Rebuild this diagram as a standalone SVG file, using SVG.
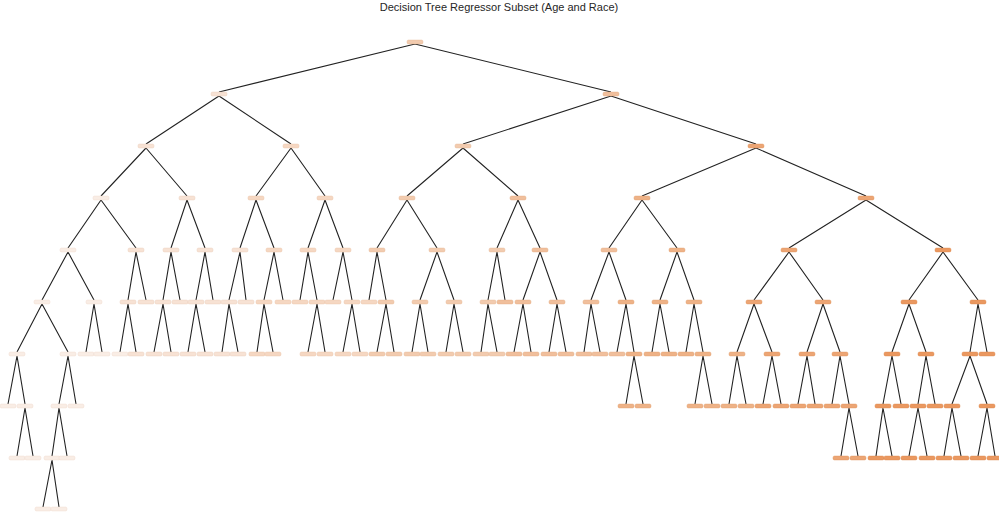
<svg xmlns="http://www.w3.org/2000/svg" width="999" height="512" viewBox="0 0 999 512">
<style>
rect{rx:1.5;ry:1.5;stroke-width:0.4}
.a{fill:#f9ede5;stroke:#efd9cb}.b{fill:#f7e2d4;stroke:#eccdb8}.c{fill:#f5d7c2;stroke:#e8c0a4}.d{fill:#f2cbaf;stroke:#e5b592}
.e{fill:#f0bf9c;stroke:#e3a87d}.f{fill:#eeb287;stroke:#e09c6b}.g{fill:#eca574;stroke:#de9059}.h{fill:#ea9860;stroke:#db8447}
#connectors path{stroke:#222222;stroke-width:1.1;fill:none}
.title{font-family:"Liberation Sans",Arial,sans-serif;font-size:11px;fill:#262626}
</style>
<rect x="0" y="0" width="999" height="512" fill="#ffffff" style="stroke:none"/>
<text class="title" x="499" y="10.5" text-anchor="middle">Decision Tree Regressor Subset (Age and Race)</text>
<g id="connectors">
<path d="M415 44L219 92M415 44L611 92"/>
<path d="M219 96L146 144M219 96L291 144M611 96L463 144M611 96L756 144"/>
<path d="M146 148L101 196M146 148L187 196M291 148L256 196M291 148L325 196M463 148L407 196M463 148L518 196M756 148L642 196M756 148L866 196"/>
<path d="M101 200L68 248M101 200L136 248M187 200L171 248M187 200L205 248M256 200L240 248M256 200L274 248M325 200L308 248M325 200L343 248M407 200L377 248M407 200L437 248M518 200L497 248M518 200L540 248M642 200L609 248M642 200L677 248M866 200L789 248M866 200L943 248"/>
<path d="M68 252L42 300M68 252L94 300M136 252L128 300M136 252L146 300M171 252L163 300M171 252L180 300M205 252L196 300M205 252L213 300M240 252L229 300M240 252L246 300M274 252L264 300M274 252L283 300M308 252L300 300M308 252L317 300M343 252L333 300M343 252L352 300M377 252L369 300M377 252L386 300M437 252L420 300M437 252L454 300M497 252L488 300M497 252L505 300M540 252L523 300M540 252L557 300M609 252L591 300M609 252L626 300M677 252L660 300M677 252L694 300M789 252L754 300M789 252L823 300M943 252L909 300M943 252L978 300"/>
<path d="M42 304L17 352M42 304L68 352M94 304L86 352M94 304L102 352M128 304L120 352M128 304L136 352M163 304L154 352M163 304L171 352M196 304L188 352M196 304L205 352M229 304L222 352M229 304L238 352M264 304L257 352M264 304L273 352M317 304L308 352M317 304L325 352M352 304L343 352M352 304L360 352M386 304L377 352M386 304L394 352M420 304L412 352M420 304L428 352M454 304L446 352M454 304L463 352M488 304L481 352M488 304L497 352M523 304L514 352M523 304L531 352M557 304L549 352M557 304L566 352M591 304L584 352M591 304L600 352M626 304L617 352M626 304L634 352M660 304L652 352M660 304L669 352M694 304L686 352M694 304L703 352M754 304L737 352M754 304L772 352M823 304L807 352M823 304L840 352M909 304L892 352M909 304L926 352M978 304L970 352M978 304L987 352"/>
<path d="M17 356L8 404M17 356L25 404M68 356L59 404M68 356L76 404M634 356L626 404M634 356L643 404M703 356L695 404M703 356L712 404M737 356L729 404M737 356L746 404M772 356L763 404M772 356L781 404M807 356L798 404M807 356L815 404M840 356L832 404M840 356L849 404M892 356L883 404M892 356L901 404M926 356L918 404M926 356L935 404M970 356L952 404M970 356L987 404"/>
<path d="M25 408L17 456M25 408L33 456M59 408L52 456M59 408L67 456M849 408L841 456M849 408L858 456M883 408L876 456M883 408L892 456M918 408L909 456M918 408L927 456M952 408L944 456M952 408L961 456M987 408L978 456M987 408L995 456"/>
<path d="M52 460L43 507M52 460L59 507"/>
</g>
<g id="n0_415"><rect class="d" x="407" y="40" width="16" height="4"/></g>
<g id="n1_219"><rect class="b" x="211" y="92" width="16" height="4"/></g>
<g id="n1_611"><rect class="e" x="603" y="92" width="16" height="4"/></g>
<g id="n2_146"><rect class="b" x="138" y="144" width="16" height="4"/></g>
<g id="n2_291"><rect class="c" x="283" y="144" width="16" height="4"/></g>
<g id="n2_463"><rect class="d" x="455" y="144" width="16" height="4"/></g>
<g id="n2_756"><rect class="g" x="748" y="144" width="16" height="4"/></g>
<g id="n3_101"><rect class="a" x="93" y="196" width="16" height="4"/></g>
<g id="n3_187"><rect class="b" x="179" y="196" width="16" height="4"/></g>
<g id="n3_256"><rect class="c" x="248" y="196" width="16" height="4"/></g>
<g id="n3_325"><rect class="c" x="317" y="196" width="16" height="4"/></g>
<g id="n3_407"><rect class="d" x="399" y="196" width="16" height="4"/></g>
<g id="n3_518"><rect class="e" x="510" y="196" width="16" height="4"/></g>
<g id="n3_642"><rect class="f" x="634" y="196" width="16" height="4"/></g>
<g id="n3_866"><rect class="g" x="858" y="196" width="16" height="4"/></g>
<g id="n4_68"><rect class="a" x="60" y="248" width="16" height="4"/></g>
<g id="n4_136"><rect class="b" x="128" y="248" width="16" height="4"/></g>
<g id="n4_171"><rect class="b" x="163" y="248" width="16" height="4"/></g>
<g id="n4_205"><rect class="b" x="197" y="248" width="16" height="4"/></g>
<g id="n4_240"><rect class="b" x="232" y="248" width="16" height="4"/></g>
<g id="n4_274"><rect class="c" x="266" y="248" width="16" height="4"/></g>
<g id="n4_308"><rect class="c" x="300" y="248" width="16" height="4"/></g>
<g id="n4_343"><rect class="c" x="335" y="248" width="16" height="4"/></g>
<g id="n4_377"><rect class="d" x="369" y="248" width="16" height="4"/></g>
<g id="n4_437"><rect class="d" x="429" y="248" width="16" height="4"/></g>
<g id="n4_497"><rect class="d" x="489" y="248" width="16" height="4"/></g>
<g id="n4_540"><rect class="e" x="532" y="248" width="16" height="4"/></g>
<g id="n4_609"><rect class="e" x="601" y="248" width="16" height="4"/></g>
<g id="n4_677"><rect class="f" x="669" y="248" width="16" height="4"/></g>
<g id="n4_789"><rect class="g" x="781" y="248" width="16" height="4"/></g>
<g id="n4_943"><rect class="h" x="935" y="248" width="16" height="4"/></g>
<g id="n5_42"><rect class="a" x="34" y="300" width="16" height="4"/></g>
<g id="n5_94"><rect class="a" x="86" y="300" width="16" height="4"/></g>
<g id="n5_128"><rect class="b" x="120" y="300" width="16" height="4"/></g>
<g id="n5_146"><rect class="b" x="138" y="300" width="16" height="4"/></g>
<g id="n5_163"><rect class="b" x="155" y="300" width="16" height="4"/></g>
<g id="n5_180"><rect class="b" x="172" y="300" width="16" height="4"/></g>
<g id="n5_196"><rect class="b" x="188" y="300" width="16" height="4"/></g>
<g id="n5_213"><rect class="b" x="205" y="300" width="16" height="4"/></g>
<g id="n5_229"><rect class="b" x="221" y="300" width="16" height="4"/></g>
<g id="n5_246"><rect class="b" x="238" y="300" width="16" height="4"/></g>
<g id="n5_264"><rect class="c" x="256" y="300" width="16" height="4"/></g>
<g id="n5_283"><rect class="c" x="275" y="300" width="16" height="4"/></g>
<g id="n5_300"><rect class="c" x="292" y="300" width="16" height="4"/></g>
<g id="n5_317"><rect class="c" x="309" y="300" width="16" height="4"/></g>
<g id="n5_333"><rect class="c" x="325" y="300" width="16" height="4"/></g>
<g id="n5_352"><rect class="c" x="344" y="300" width="16" height="4"/></g>
<g id="n5_369"><rect class="c" x="361" y="300" width="16" height="4"/></g>
<g id="n5_386"><rect class="d" x="378" y="300" width="16" height="4"/></g>
<g id="n5_420"><rect class="d" x="412" y="300" width="16" height="4"/></g>
<g id="n5_454"><rect class="d" x="446" y="300" width="16" height="4"/></g>
<g id="n5_488"><rect class="d" x="480" y="300" width="16" height="4"/></g>
<g id="n5_505"><rect class="e" x="497" y="300" width="16" height="4"/></g>
<g id="n5_523"><rect class="e" x="515" y="300" width="16" height="4"/></g>
<g id="n5_557"><rect class="e" x="549" y="300" width="16" height="4"/></g>
<g id="n5_591"><rect class="e" x="583" y="300" width="16" height="4"/></g>
<g id="n5_626"><rect class="f" x="618" y="300" width="16" height="4"/></g>
<g id="n5_660"><rect class="f" x="652" y="300" width="16" height="4"/></g>
<g id="n5_694"><rect class="f" x="686" y="300" width="16" height="4"/></g>
<g id="n5_754"><rect class="g" x="746" y="300" width="16" height="4"/></g>
<g id="n5_823"><rect class="g" x="815" y="300" width="16" height="4"/></g>
<g id="n5_909"><rect class="h" x="901" y="300" width="16" height="4"/></g>
<g id="n5_978"><rect class="h" x="970" y="300" width="16" height="4"/></g>
<g id="n6_17"><rect class="a" x="9" y="352" width="16" height="4"/></g>
<g id="n6_68"><rect class="a" x="60" y="352" width="16" height="4"/></g>
<g id="n6_86"><rect class="a" x="78" y="352" width="16" height="4"/></g>
<g id="n6_102"><rect class="a" x="94" y="352" width="16" height="4"/></g>
<g id="n6_120"><rect class="a" x="112" y="352" width="16" height="4"/></g>
<g id="n6_136"><rect class="b" x="128" y="352" width="16" height="4"/></g>
<g id="n6_154"><rect class="b" x="146" y="352" width="16" height="4"/></g>
<g id="n6_171"><rect class="b" x="163" y="352" width="16" height="4"/></g>
<g id="n6_188"><rect class="b" x="180" y="352" width="16" height="4"/></g>
<g id="n6_205"><rect class="b" x="197" y="352" width="16" height="4"/></g>
<g id="n6_222"><rect class="b" x="214" y="352" width="16" height="4"/></g>
<g id="n6_238"><rect class="b" x="230" y="352" width="16" height="4"/></g>
<g id="n6_257"><rect class="c" x="249" y="352" width="16" height="4"/></g>
<g id="n6_273"><rect class="c" x="265" y="352" width="16" height="4"/></g>
<g id="n6_308"><rect class="c" x="300" y="352" width="16" height="4"/></g>
<g id="n6_325"><rect class="c" x="317" y="352" width="16" height="4"/></g>
<g id="n6_343"><rect class="c" x="335" y="352" width="16" height="4"/></g>
<g id="n6_360"><rect class="c" x="352" y="352" width="16" height="4"/></g>
<g id="n6_377"><rect class="d" x="369" y="352" width="16" height="4"/></g>
<g id="n6_394"><rect class="d" x="386" y="352" width="16" height="4"/></g>
<g id="n6_412"><rect class="d" x="404" y="352" width="16" height="4"/></g>
<g id="n6_428"><rect class="d" x="420" y="352" width="16" height="4"/></g>
<g id="n6_446"><rect class="d" x="438" y="352" width="16" height="4"/></g>
<g id="n6_463"><rect class="d" x="455" y="352" width="16" height="4"/></g>
<g id="n6_481"><rect class="d" x="473" y="352" width="16" height="4"/></g>
<g id="n6_497"><rect class="d" x="489" y="352" width="16" height="4"/></g>
<g id="n6_514"><rect class="e" x="506" y="352" width="16" height="4"/></g>
<g id="n6_531"><rect class="e" x="523" y="352" width="16" height="4"/></g>
<g id="n6_549"><rect class="e" x="541" y="352" width="16" height="4"/></g>
<g id="n6_566"><rect class="e" x="558" y="352" width="16" height="4"/></g>
<g id="n6_584"><rect class="e" x="576" y="352" width="16" height="4"/></g>
<g id="n6_600"><rect class="e" x="592" y="352" width="16" height="4"/></g>
<g id="n6_617"><rect class="e" x="609" y="352" width="16" height="4"/></g>
<g id="n6_634"><rect class="f" x="626" y="352" width="16" height="4"/></g>
<g id="n6_652"><rect class="f" x="644" y="352" width="16" height="4"/></g>
<g id="n6_669"><rect class="f" x="661" y="352" width="16" height="4"/></g>
<g id="n6_686"><rect class="f" x="678" y="352" width="16" height="4"/></g>
<g id="n6_703"><rect class="f" x="695" y="352" width="16" height="4"/></g>
<g id="n6_737"><rect class="f" x="729" y="352" width="16" height="4"/></g>
<g id="n6_772"><rect class="g" x="764" y="352" width="16" height="4"/></g>
<g id="n6_807"><rect class="g" x="799" y="352" width="16" height="4"/></g>
<g id="n6_840"><rect class="g" x="832" y="352" width="16" height="4"/></g>
<g id="n6_892"><rect class="h" x="884" y="352" width="16" height="4"/></g>
<g id="n6_926"><rect class="h" x="918" y="352" width="16" height="4"/></g>
<g id="n6_970"><rect class="h" x="962" y="352" width="16" height="4"/></g>
<g id="n6_987"><rect class="h" x="979" y="352" width="16" height="4"/></g>
<g id="n7_8"><rect class="a" x="0" y="404" width="16" height="4"/></g>
<g id="n7_25"><rect class="a" x="17" y="404" width="16" height="4"/></g>
<g id="n7_59"><rect class="a" x="51" y="404" width="16" height="4"/></g>
<g id="n7_76"><rect class="a" x="68" y="404" width="16" height="4"/></g>
<g id="n7_626"><rect class="f" x="618" y="404" width="16" height="4"/></g>
<g id="n7_643"><rect class="f" x="635" y="404" width="16" height="4"/></g>
<g id="n7_695"><rect class="f" x="687" y="404" width="16" height="4"/></g>
<g id="n7_712"><rect class="f" x="704" y="404" width="16" height="4"/></g>
<g id="n7_729"><rect class="f" x="721" y="404" width="16" height="4"/></g>
<g id="n7_746"><rect class="f" x="738" y="404" width="16" height="4"/></g>
<g id="n7_763"><rect class="g" x="755" y="404" width="16" height="4"/></g>
<g id="n7_781"><rect class="g" x="773" y="404" width="16" height="4"/></g>
<g id="n7_798"><rect class="g" x="790" y="404" width="16" height="4"/></g>
<g id="n7_815"><rect class="g" x="807" y="404" width="16" height="4"/></g>
<g id="n7_832"><rect class="g" x="824" y="404" width="16" height="4"/></g>
<g id="n7_849"><rect class="g" x="841" y="404" width="16" height="4"/></g>
<g id="n7_883"><rect class="h" x="875" y="404" width="16" height="4"/></g>
<g id="n7_901"><rect class="h" x="893" y="404" width="16" height="4"/></g>
<g id="n7_918"><rect class="h" x="910" y="404" width="16" height="4"/></g>
<g id="n7_935"><rect class="h" x="927" y="404" width="16" height="4"/></g>
<g id="n7_952"><rect class="h" x="944" y="404" width="16" height="4"/></g>
<g id="n7_987"><rect class="h" x="979" y="404" width="16" height="4"/></g>
<g id="n8_17"><rect class="a" x="9" y="456" width="16" height="4"/></g>
<g id="n8_33"><rect class="a" x="25" y="456" width="16" height="4"/></g>
<g id="n8_52"><rect class="a" x="44" y="456" width="16" height="4"/></g>
<g id="n8_67"><rect class="a" x="59" y="456" width="16" height="4"/></g>
<g id="n8_841"><rect class="g" x="833" y="456" width="16" height="4"/></g>
<g id="n8_858"><rect class="g" x="850" y="456" width="16" height="4"/></g>
<g id="n8_876"><rect class="h" x="868" y="456" width="16" height="4"/></g>
<g id="n8_892"><rect class="h" x="884" y="456" width="16" height="4"/></g>
<g id="n8_909"><rect class="h" x="901" y="456" width="16" height="4"/></g>
<g id="n8_927"><rect class="h" x="919" y="456" width="16" height="4"/></g>
<g id="n8_944"><rect class="h" x="936" y="456" width="16" height="4"/></g>
<g id="n8_961"><rect class="h" x="953" y="456" width="16" height="4"/></g>
<g id="n8_978"><rect class="h" x="970" y="456" width="16" height="4"/></g>
<g id="n8_995"><rect class="h" x="987" y="456" width="16" height="4"/></g>
<g id="n9_43"><rect class="a" x="35" y="507" width="16" height="4"/></g>
<g id="n9_59"><rect class="a" x="51" y="507" width="16" height="4"/></g>
</svg>
